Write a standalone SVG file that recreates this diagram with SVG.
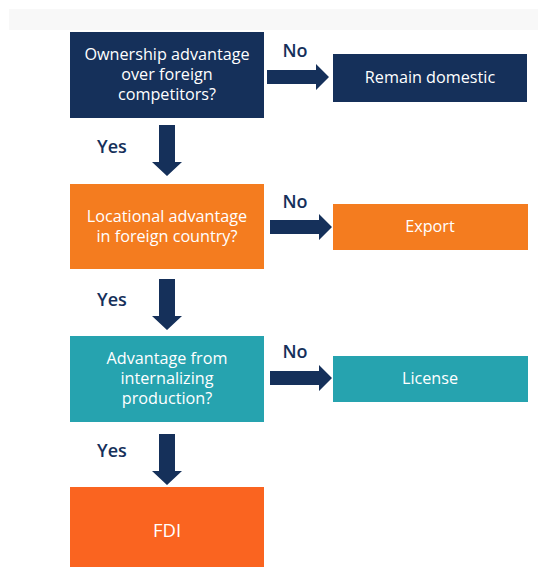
<svg xmlns="http://www.w3.org/2000/svg" width="539" height="567" viewBox="0 0 539 567">
  <style>
    .box-text { font-family: "Open Sans", "Liberation Sans", sans-serif; font-size: 16.2px; fill: #ffffff; text-anchor: middle; }
    .label { font-family: "Open Sans", "Liberation Sans", sans-serif; font-size: 18px; font-weight: 600; fill: #15305a; text-anchor: middle; }
    .navy { fill: #15305a; }
    .orange { fill: #f47c1f; }
    .teal { fill: #26a3af; }
    .fdi { fill: #fa6420; }
    .arrow { fill: #15305a; }
  </style>
  <defs>
    <!-- block arrows, drawn at the origin and placed by translate -->
    <path id="down" d="M-8,0 H8 V37 H15 L0,51 L-15,37 H-8 Z"/>
    <path id="right" d="M0,-7 H49 V-13 L62,0 L49,13 V-7 H49 V7 H0 Z"/>
  </defs>

  <rect width="539" height="567" fill="#ffffff"/>
  <rect x="9" y="9" width="529" height="21" fill="#f8f8f8"/>

  <g id="q-ownership">
    <rect class="navy" x="70" y="32" width="194" height="86"/>
    <text class="box-text" x="167" y="60">Ownership advantage</text>
    <text class="box-text" x="167" y="80">over foreign</text>
    <text class="box-text" x="167" y="100">competitors?</text>
  </g>
  <g id="remain-domestic">
    <rect class="navy" x="333" y="54" width="194" height="48"/>
    <text class="box-text" x="430" y="83">Remain domestic</text>
  </g>

  <g id="q-locational">
    <rect class="orange" x="70" y="184" width="194" height="85"/>
    <text class="box-text" x="167" y="222">Locational advantage</text>
    <text class="box-text" x="167" y="242">in foreign country?</text>
  </g>
  <g id="export">
    <rect class="orange" x="333" y="204" width="195" height="46"/>
    <text class="box-text" x="430" y="232">Export</text>
  </g>

  <g id="q-internalizing">
    <rect class="teal" x="70" y="336" width="194" height="86"/>
    <text class="box-text" x="167" y="364">Advantage from</text>
    <text class="box-text" x="167" y="384">internalizing</text>
    <text class="box-text" x="167" y="404">production?</text>
  </g>
  <g id="license">
    <rect class="teal" x="333" y="356" width="195" height="46"/>
    <text class="box-text" x="430" y="384">License</text>
  </g>

  <g id="fdi">
    <rect class="fdi" x="70" y="487" width="194" height="80"/>
    <text class="box-text" x="167" y="537" style="font-size:18.5px">FDI</text>
  </g>

  <g id="connectors">
    <use href="#right" class="arrow" transform="translate(267,77)"/>
    <use href="#right" class="arrow" transform="translate(270,227)"/>
    <use href="#right" class="arrow" transform="translate(270,378)"/>
    <use href="#down" class="arrow" transform="translate(167,125)"/>
    <use href="#down" class="arrow" transform="translate(167,279)"/>
    <use href="#down" class="arrow" transform="translate(167,434)"/>
    <text class="label" x="295" y="57">No</text>
    <text class="label" x="295" y="208">No</text>
    <text class="label" x="295" y="358">No</text>
    <text class="label" x="112" y="153">Yes</text>
    <text class="label" x="112" y="306">Yes</text>
    <text class="label" x="112" y="457">Yes</text>
  </g>
</svg>
